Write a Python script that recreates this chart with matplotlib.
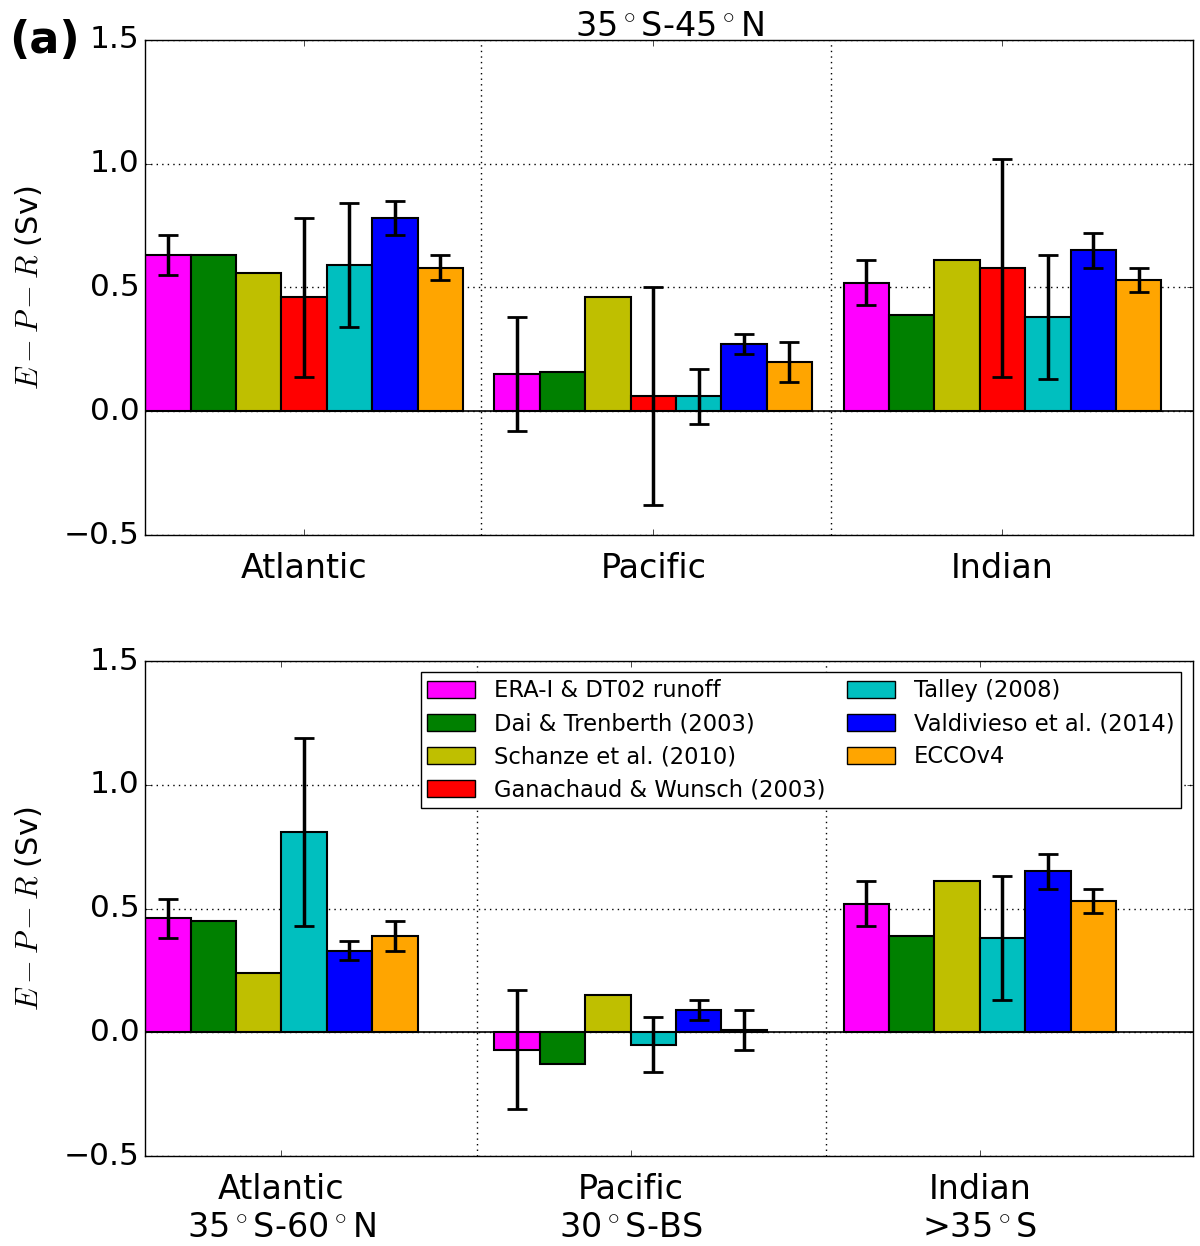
from matplotlib import pyplot as plt
from matplotlib.patches import Patch
import numpy as np

plt.style.use('classic')
plt.rcParams['figure.facecolor'] = 'white'
plt.rcParams['mathtext.fontset'] = 'cm'

nan = np.nan

datasets = ["ERA-I & DT02 runoff", "Dai & Trenberth (2003)", "Schanze et al. (2010)",
            "Ganachaud & Wunsch (2003)", "Talley (2008)", "Valdivieso et al. (2014)", "ECCOv4"]
colors = ['#ff00ff', 'g', 'y', 'r', 'c', 'b', 'orange']

top_labels = ["Atlantic", "Pacific", "Indian"]
bottom_labels = ["Atlantic\n35$^\\circ$S-60$^\\circ$N", "Pacific\n30$^\\circ$S-BS", "Indian\n>35$^\\circ$S"]

# rows: Atlantic, Pacific, Indian ; columns: datasets
top_vals = [[0.63, 0.63, 0.56, 0.46, 0.59, 0.78, 0.58],
            [0.15, 0.16, 0.46, 0.06, 0.06, 0.27, 0.20],
            [0.52, 0.39, 0.61, 0.58, 0.38, 0.65, 0.53]]
top_err = [[0.08, nan, nan, 0.32, 0.25, 0.07, 0.05],
           [0.23, nan, nan, 0.44, 0.11, 0.04, 0.08],
           [0.09, nan, nan, 0.44, 0.25, 0.07, 0.05]]

bottom_vals = [[0.46, 0.45, 0.24, nan, 0.81, 0.33, 0.39],
               [-0.07, -0.13, 0.15, nan, -0.05, 0.09, 0.01],
               [0.52, 0.39, 0.61, nan, 0.38, 0.65, 0.53]]
bottom_err = [[0.08, nan, nan, nan, 0.38, 0.04, 0.06],
              [0.24, nan, nan, nan, 0.11, 0.04, 0.08],
              [0.09, nan, nan, nan, 0.25, 0.07, 0.05]]

width = 0.13


def draw_panel(ax, vals, errs, labels, divider):
    centers = []
    for i, (row, erow) in enumerate(zip(vals, errs)):
        j = 0
        for k, (v, e) in enumerate(zip(row, erow)):
            if np.isnan(v):
                continue
            x = i + j * width
            ax.bar(x, v, width, align='edge', color=colors[k], edgecolor='k', linewidth=1.5, zorder=2)
            if not np.isnan(e):
                ax.errorbar(x + width / 2, v, yerr=e, fmt='none', ecolor='k',
                            elinewidth=2.5, capsize=7, capthick=2, zorder=3)
            j += 1
        centers.append(i + j * width / 2)
    ax.axhline(0, color='k', linewidth=1.2, zorder=2)
    for d in divider:
        ax.axvline(d, color='k', linestyle=':', linewidth=1, zorder=1)
    ax.set_xlim(0, 3)
    ax.set_ylim(-0.5, 1.5)
    ax.set_yticks([-0.5, 0.0, 0.5, 1.0, 1.5])
    ax.set_xticks(centers)
    ax.set_xticklabels(labels, fontsize=24)
    ax.tick_params(axis='y', labelsize=22.5)
    ax.tick_params(axis='x', pad=12)
    ax.yaxis.grid(True, linestyle=':', color='k', linewidth=1)
    ax.xaxis.grid(False)
    ax.set_axisbelow(True)
    ax.set_ylabel("$E-P-R$ (Sv)", fontsize=22, labelpad=14)


fig = plt.figure(figsize=(12, 12.46), dpi=100)
ax1 = fig.add_axes([0.121, 0.5706, 0.873, 0.3974])
ax2 = fig.add_axes([0.121, 0.0722, 0.873, 0.3973])

draw_panel(ax1, top_vals, top_err, top_labels, [0.963, 1.963])
draw_panel(ax2, bottom_vals, bottom_err, bottom_labels, [0.951, 1.951])

ax1.set_title("35$^\\circ$S-45$^\\circ$N", fontsize=24, y=1.0, pad=3)
fig.text(0.008, 0.985, "(a)", fontsize=32, fontweight='bold', va='top')

handles = [Patch(facecolor=c, edgecolor='k', label=l) for c, l in zip(colors, datasets)]
ax2.legend(handles=handles, ncol=2, loc='upper right', fontsize=16.3, frameon=True,
           fancybox=False, handlelength=2.1, handleheight=0.75, handletextpad=0.85,
           columnspacing=0.95, borderaxespad=0.5, labelspacing=0.45, borderpad=0.3)

fig.savefig("out.png", dpi=100, facecolor='white')
